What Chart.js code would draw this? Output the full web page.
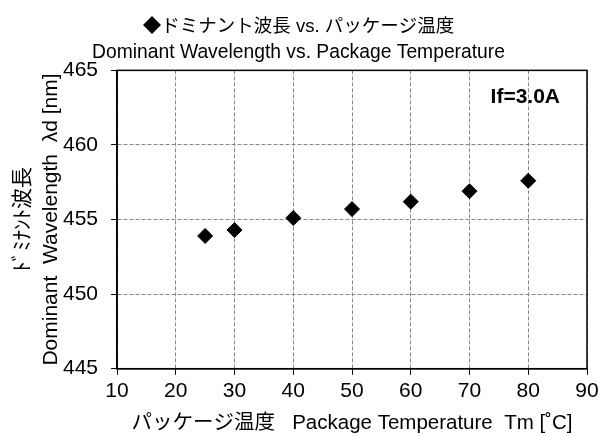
<!DOCTYPE html>
<html>
<head>
<meta charset="utf-8">
<script src="https://cdn.jsdelivr.net/npm/chart.js@4/dist/chart.umd.min.js"></script>
<style>
  html, body { margin: 0; padding: 0; background: #fff; }
  #wrap { width: 605px; height: 436px; }
</style>
</head>
<body>
<div id="wrap"><canvas id="Courbes" width="605" height="436"></canvas></div>
<script>
const temps = [25, 30, 40, 50, 60, 70, 80];
const wavelengths = [453.9, 454.3, 455.1, 455.7, 456.2, 456.9, 457.6];
const xTicks = [10, 20, 30, 40, 50, 60, 70, 80, 90];
const yTicks = [445, 450, 455, 460, 465];

const FONT = "Arial, 'Liberation Sans', 'Noto Sans CJK JP', sans-serif";

// cadre noir + annotation If=3.0A
const framePlugin = {
  id: "frame",
  afterDraw(chart) {
    const { ctx, chartArea: a } = chart;
    ctx.save();
    ctx.strokeStyle = "#000";
    ctx.lineWidth = 1.5;
    ctx.strokeRect(a.left, a.top, a.right - a.left, a.bottom - a.top);
    ctx.fillStyle = "#000";
    ctx.font = "bold 21px " + FONT;
    ctx.textAlign = "right";
    ctx.textBaseline = "middle";
    ctx.fillText("If=3.0A", a.right - 27, a.top + 27);
    ctx.restore();
  },
};

let ctx = document.getElementById("Courbes").getContext("2d");
let Courbes = new Chart(ctx, {
  type: "scatter",
  data: {
    datasets: [
      {
        data: temps.map((t, i) => ({ x: t, y: wavelengths[i] })),
        backgroundColor: "#000",
        borderColor: "#000",
        pointStyle: "rectRot",
        pointRadius: 7.5,
        pointHoverRadius: 7.5,
      },
    ],
  },
  options: {
    responsive: false,
    animation: false,
    layout: { padding: { left: 10, right: 18, top: 0, bottom: 0 } },
    plugins: {
      legend: { display: false },
      tooltip: { enabled: false },
      title: {
        display: true,
        text: "◆ドミナント波長 vs. パッケージ温度",
        color: "#000",
        font: { family: FONT, size: 18.5, weight: "normal" },
        padding: { top: 16, bottom: 2 },
      },
      subtitle: {
        display: true,
        text: "Dominant Wavelength vs. Package Temperature",
        color: "#000",
        font: { family: FONT, size: 19.3, weight: "normal" },
        padding: { top: 1, bottom: 6 },
      },
    },
    scales: {
      x: {
        type: "linear",
        min: 10,
        max: 90,
        afterBuildTicks: (axis) => {
          axis.ticks = xTicks.map((v) => ({ value: v }));
        },
        ticks: { color: "#000", font: { family: FONT, size: 21 }, padding: 4.4 },
        grid: { color: "#888", tickColor: "#000", tickLength: 6, lineWidth: 1 },
        border: { color: "#000", width: 1.5, dash: [4, 2] },
        title: {
          display: true,
          text: "パッケージ温度   Package Temperature  Tm [˚C]",
          color: "#000",
          font: { family: FONT, size: 20.5 },
          padding: { top: 2.7, bottom: 0 },
        },
      },
      y: {
        type: "linear",
        min: 445,
        max: 465,
        afterBuildTicks: (axis) => {
          axis.ticks = yTicks.map((v) => ({ value: v }));
        },
        ticks: { color: "#000", font: { family: FONT, size: 21 }, padding: 13 },
        grid: { color: "#888", tickColor: "#000", tickLength: 6, lineWidth: 1 },
        border: { color: "#000", width: 1.5, dash: [4, 2] },
        title: {
          display: true,
          text: ["ﾄﾞﾐﾅﾝﾄ波長", "Dominant  Wavelength  λd [nm]"],
          color: "#000",
          font: { family: FONT, size: 21, lineHeight: 1.3 },
          padding: { top: 0, bottom: -14.6 },
        },
      },
    },
  },
  plugins: [framePlugin],
});
</script>
</body>
</html>
